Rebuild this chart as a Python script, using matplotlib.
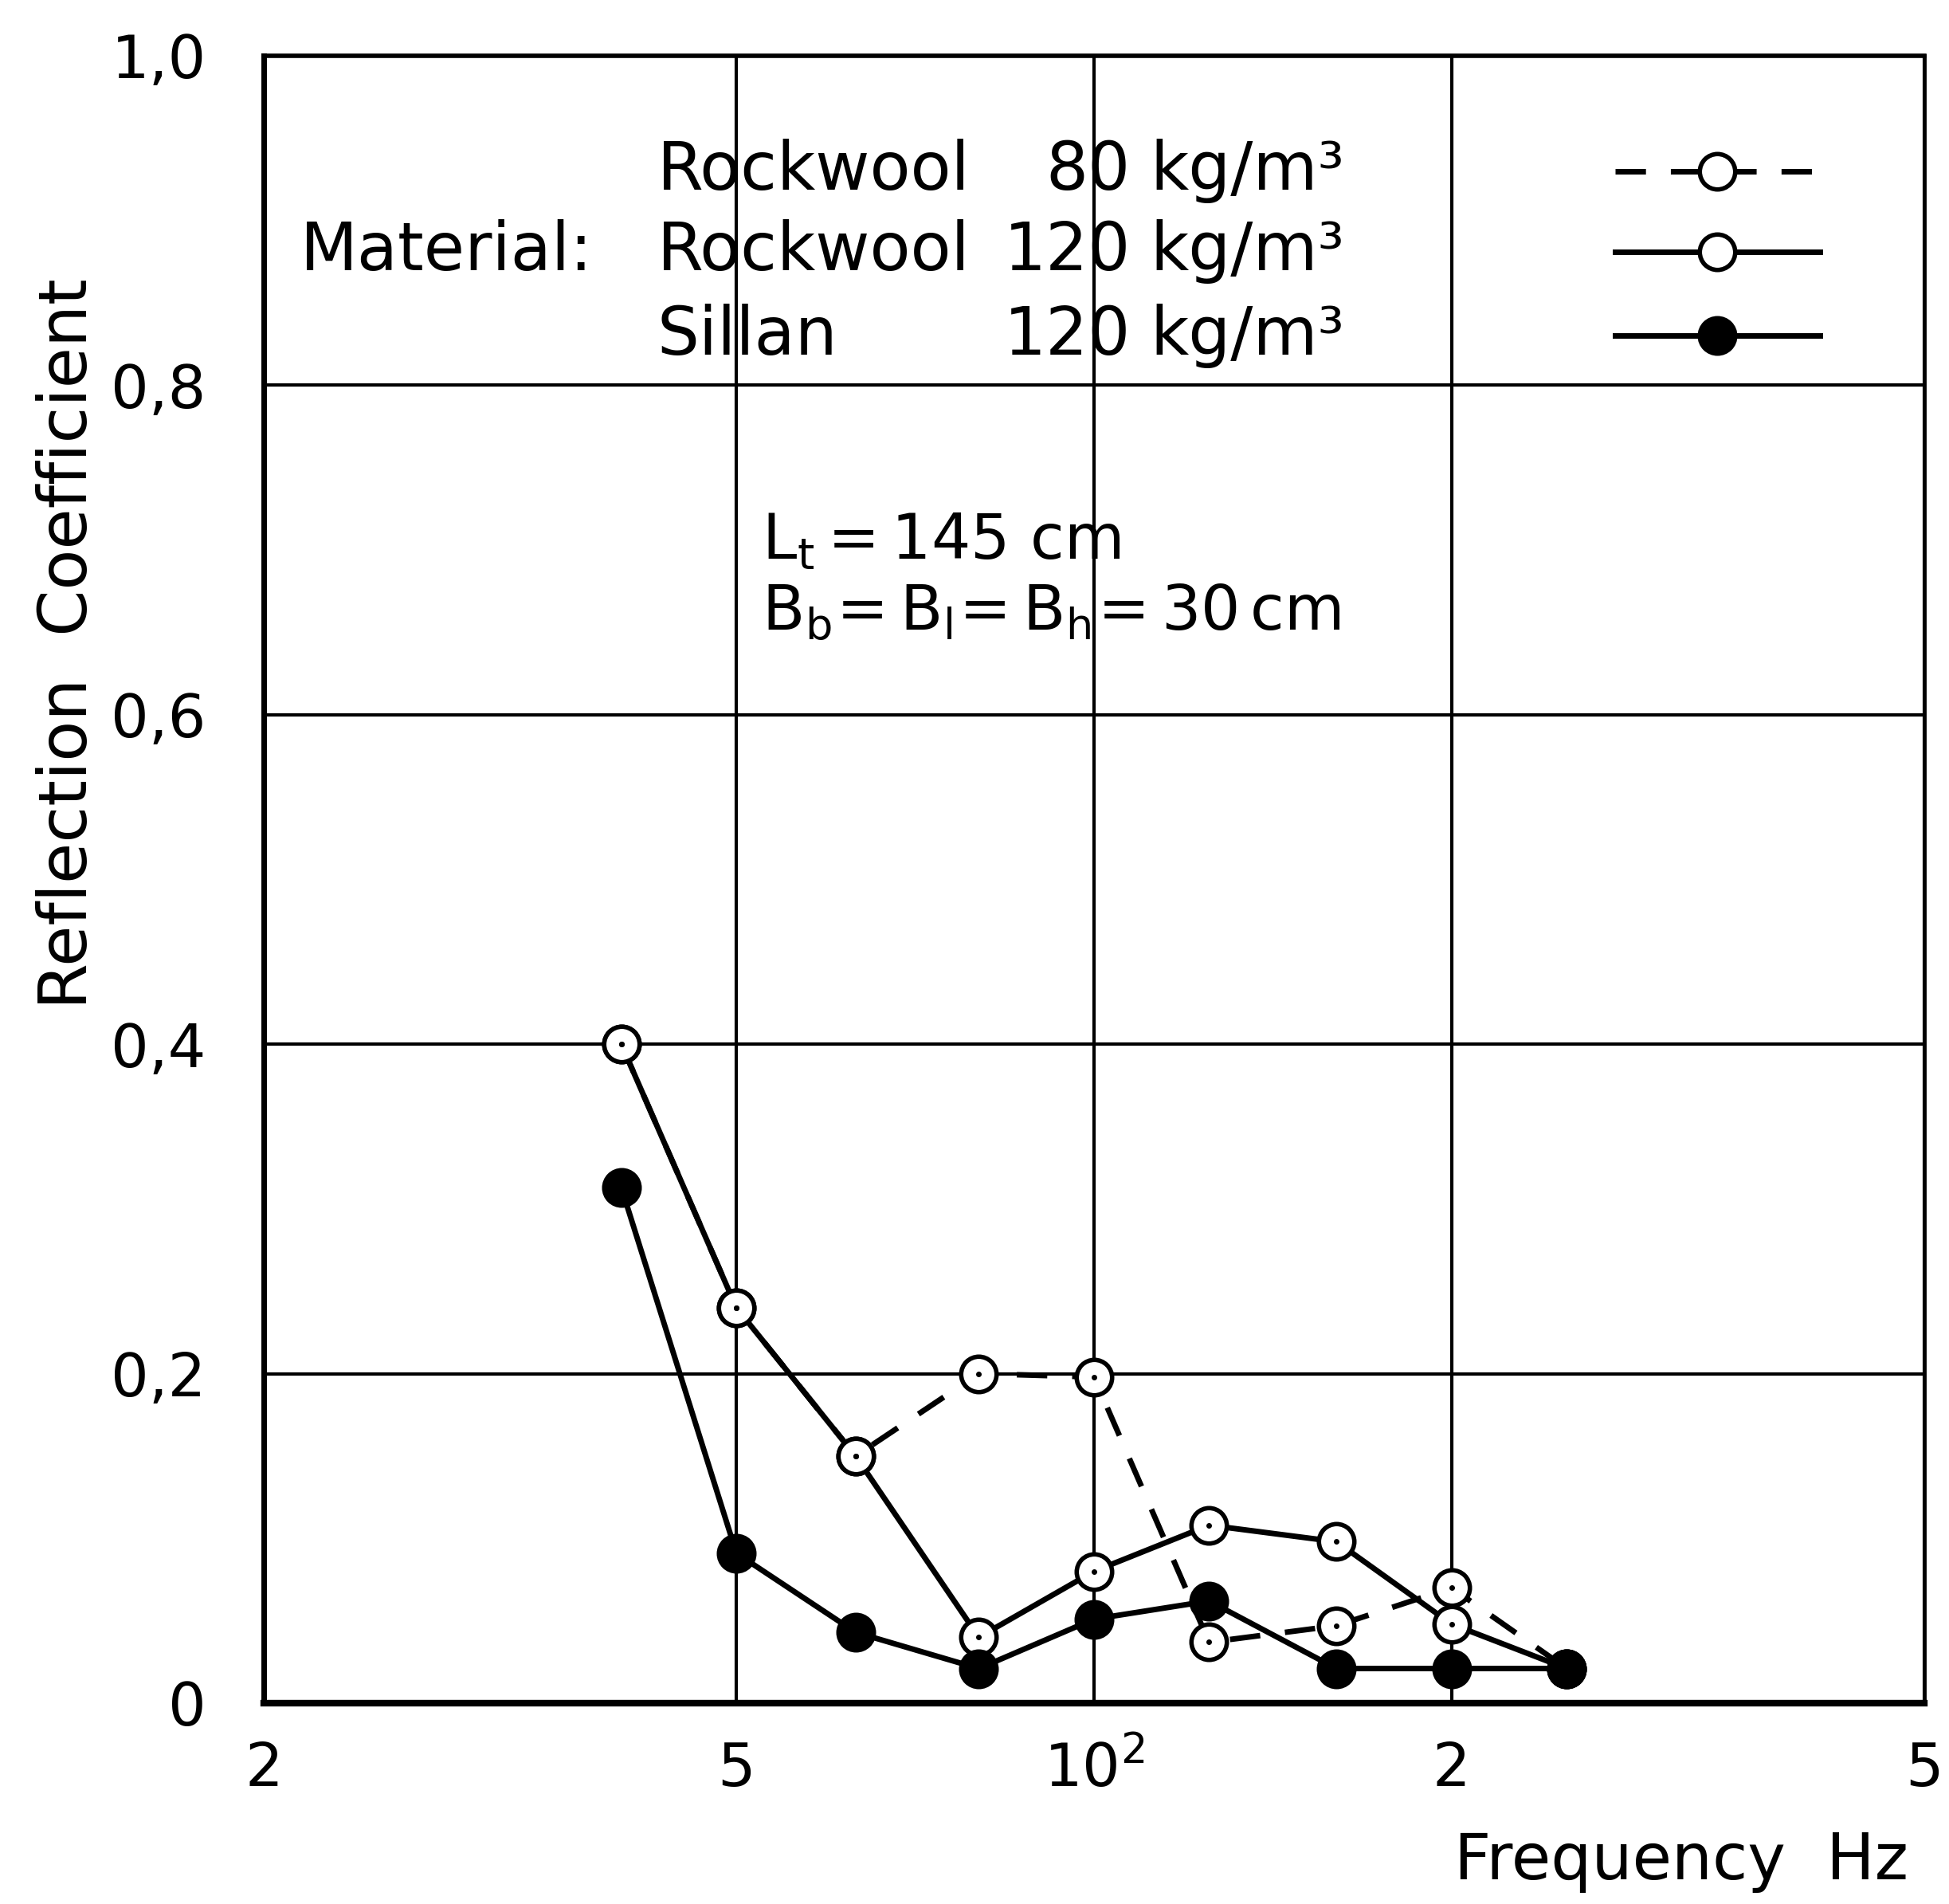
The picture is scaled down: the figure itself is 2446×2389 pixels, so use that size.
import matplotlib
matplotlib.use("Agg")
import matplotlib.pyplot as plt
from matplotlib.lines import Line2D

# Frequencies (Hz) of the measurement points
freq = [40, 50, 63, 80, 100, 125, 160, 200, 250]

# Reflection coefficient per absorber material
rockwool_80 = [0.40, 0.24, 0.15, 0.200, 0.198, 0.037, 0.047, 0.070, 0.021]
rockwool_120 = [0.40, 0.24, 0.15, 0.040, 0.080, 0.108, 0.098, 0.048, 0.021]
sillan_120 = [0.313, 0.091, 0.043, 0.021, 0.051, 0.062, 0.021, 0.021, 0.021]

x_ticks = [20, 50, 100, 200, 500]
x_tick_labels = ["2", "5", r"$\mathregular{10^2}$", "2", "5"]
y_ticks = [0.0, 0.2, 0.4, 0.6, 0.8, 1.0]
y_tick_labels = ["0", "0,2", "0,4", "0,6", "0,8", "1,0"]

materials = ["Rockwool", "Rockwool", "Sillan"]
densities = ["80", "120", "120"]

plt.rcParams["font.family"] = ["DejaVu Sans"]

fig = plt.figure(figsize=(24.46, 23.89), dpi=100)
ax = fig.add_axes([0.1353, 0.1055, 0.8520, 0.8652])

ax.set_xscale("log")
ax.set_xlim(20, 500)
ax.set_ylim(0, 1.0)

lw = 5.0
ms = 32
mew = 4.0

dash_style = dict(color="black", lw=lw, linestyle=(0, (5.5, 4.5)),
                  marker="o", ms=ms, mfc="white", mec="black", mew=mew)
solid_open = dict(color="black", lw=lw, linestyle="-",
                  marker="o", ms=ms, mfc="white", mec="black", mew=mew)
solid_fill = dict(color="black", lw=lw, linestyle="-",
                  marker="o", ms=ms, mfc="black", mec="black", mew=mew)

ax.plot(freq, rockwool_80, zorder=3, **dash_style)
ax.plot(freq, rockwool_120, zorder=4, **solid_open)
ax.plot(freq, sillan_120, zorder=5, **solid_fill)
# small centre dots of the open circles
ax.plot(freq, rockwool_80, ls="none", marker="o", ms=4, color="black", zorder=6)
ax.plot(freq, rockwool_120, ls="none", marker="o", ms=4, color="black", zorder=6)

# grid
ax.set_xticks(x_ticks)
ax.set_xticklabels(x_tick_labels)
ax.set_xticks([], minor=True)
ax.set_yticks(y_ticks)
ax.set_yticklabels(y_tick_labels)
ax.grid(True, which="major", color="black", lw=3.0)
ax.tick_params(axis="both", length=0, labelsize=54)
ax.tick_params(axis="y", pad=52)
ax.tick_params(axis="x", pad=34)
for side, w in (("left", 5.0), ("bottom", 6.0), ("top", 4.0), ("right", 3.5)):
    ax.spines[side].set_linewidth(w)

# material key in the upper panel
fs_key = 60
ax.text(0.022, 0.881, "Material:", transform=ax.transAxes, fontsize=fs_key,
        va="center", ha="left")
key_rows_y = [0.930, 0.881, 0.830]
for yy, name, dens in zip(key_rows_y, materials, densities):
    ax.text(0.237, yy, name, transform=ax.transAxes, fontsize=fs_key,
            va="center", ha="left")
    ax.text(0.522, yy, dens, transform=ax.transAxes, fontsize=fs_key,
            va="center", ha="right")
    ax.text(0.534, yy, "kg/m³", transform=ax.transAxes, fontsize=fs_key,
            va="center", ha="left")

key_styles = [dash_style, solid_open, solid_fill]
for yy, st in zip(key_rows_y, key_styles):
    ax.add_line(Line2D([0.814, 0.937], [yy, yy], transform=ax.transAxes,
                       color="black", lw=lw, linestyle=st["linestyle"], zorder=7))
    ax.add_line(Line2D([0.8755], [yy], transform=ax.transAxes, ls="none",
                       marker="o", ms=ms, mfc=st["mfc"], mec="black", mew=mew,
                       zorder=8))

# channel geometry
ax.text(0.300, 0.705, r"$\mathregular{L_t = 145\ cm}$", transform=ax.transAxes,
        fontsize=56, va="center", ha="left")
ax.text(0.300, 0.662, r"$\mathregular{B_b\!= B_l\!= B_h\!= 30\,cm}$",
        transform=ax.transAxes, fontsize=56, va="center", ha="left")

fig.text(0.035, 0.662, "Reflection  Coefficient", rotation=90, fontsize=60,
         va="center", ha="center")
fig.text(0.979, 0.022, "Frequency  Hz", fontsize=58, va="center", ha="right")

fig.savefig("out.png", dpi=100, facecolor="white")
